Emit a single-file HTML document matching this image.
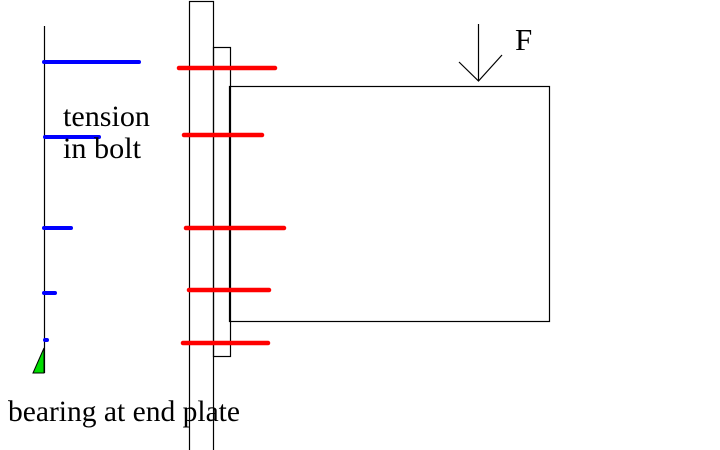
<!DOCTYPE html>
<html><head><style>html,body{margin:0;padding:0;background:#fff;}</style></head><body>
<svg width="720" height="450" xmlns="http://www.w3.org/2000/svg" style="display:block">
<rect width="720" height="450" fill="#fff"/>
<g stroke="#000" stroke-width="1.2" fill="none">
<line x1="44.5" y1="26" x2="44.5" y2="373"/>
<rect x="189.5" y="1.5" width="24" height="452"/>
<rect x="213.5" y="47.5" width="17" height="309"/>
<rect x="229.5" y="86.5" width="320" height="235"/>
<line x1="478.5" y1="24" x2="478.5" y2="81"/>
<polyline points="459,62 478.5,81 502,55"/>
</g>
<polygon points="33,373 44,348 44,373" fill="#00dd00" stroke="#000" stroke-width="1"/>
<g stroke="#0000ff" stroke-width="4" stroke-linecap="round">
<line x1="44" y1="62" x2="139" y2="62"/>
<line x1="45" y1="137" x2="99" y2="137"/>
<line x1="44" y1="228" x2="71" y2="228"/>
<line x1="44" y1="293" x2="55" y2="293"/>
<line x1="45" y1="340" x2="47" y2="340"/>
</g>
<g stroke="#ff0000" stroke-width="4.5" stroke-linecap="round">
<line x1="179" y1="68" x2="275" y2="68"/>
<line x1="184" y1="135" x2="262" y2="135"/>
<line x1="186" y1="228" x2="284" y2="228"/>
<line x1="189" y1="290" x2="269" y2="290"/>
<line x1="183" y1="343" x2="268" y2="343"/>
</g>
<g font-family="Liberation Serif, serif" fill="#000" font-size="30">
<text x="63" y="126" textLength="87" lengthAdjust="spacingAndGlyphs">tension</text>
<text x="63" y="158" textLength="78" lengthAdjust="spacingAndGlyphs">in bolt</text>
<text x="8" y="421" textLength="232" lengthAdjust="spacingAndGlyphs">bearing at end plate</text>
<text x="515" y="50" font-size="31">F</text>
</g>
</svg>
</body></html>
